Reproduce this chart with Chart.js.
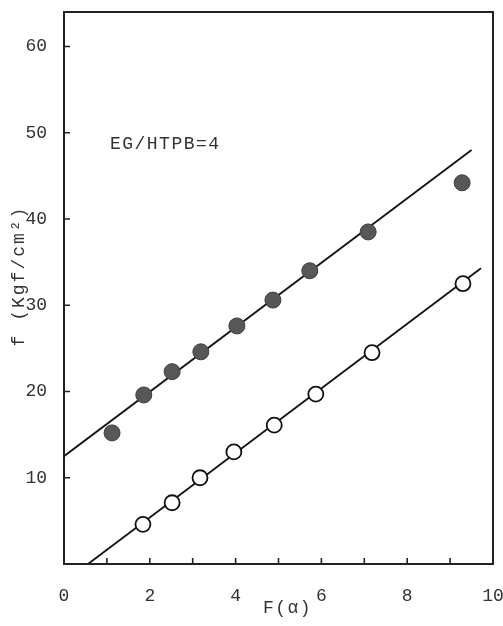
<!DOCTYPE html>
<html lang="en">
<head>
<meta charset="UTF-8">
<title>f vs F(α), EG/HTPB=4</title>
<script src="https://cdn.jsdelivr.net/npm/chart.js"></script>
<style>
  body { margin: 0; background: #fff; }
  #wrap { width: 503px; height: 626px; }
</style>
</head>
<body>
<div id="wrap"><canvas id="chart" width="503" height="626"></canvas></div>
<script>
// filled circles
const filledX = [1.12, 1.86, 2.52, 3.19, 4.03, 4.87, 5.73, 7.09, 9.28];
const filledY = [15.2, 19.6, 22.3, 24.6, 27.6, 30.6, 34.0, 38.5, 44.2];
// open circles
const openX = [1.84, 2.52, 3.17, 3.96, 4.90, 5.87, 7.18, 9.30];
const openY = [4.6, 7.1, 10.0, 13.0, 16.1, 19.7, 24.5, 32.5];
// straight lines drawn through each set (end points)
const filledLineX = [0, 9.5];
const filledLineY = [12.5, 48.0];
const openLineX = [0.56, 9.72];
const openLineY = [0, 34.3];

const xTickLabels = ['0', '2', '4', '6', '8', '10'];
const yTickLabels = ['10', '20', '30', '40', '50', '60'];
const xTitle = 'F(α)';
const yTitle = 'f (Kgf/cm²)';
const note = 'EG/HTPB=4';

const FONT = '"Liberation Mono", "DejaVu Sans Mono", monospace';
const INK = '#333';

function toPoints(xs, ys) {
    return xs.map((x, i) => ({ x: x, y: ys[i] }));
}

// frame, inward tick marks, note and axis titles
const framePlugin = {
    id: 'frame',
    afterDatasetsDraw(chart) {
        const ctx = chart.ctx;
        const a = chart.chartArea;
        const x = chart.scales.x;
        const y = chart.scales.y;
        ctx.save();
        ctx.strokeStyle = '#222';
        ctx.lineWidth = 2;
        ctx.strokeRect(a.left, a.top, a.right - a.left, a.bottom - a.top);
        ctx.lineWidth = 1.6;
        ctx.beginPath();
        for (let v = 1; v < 10; v++) {
            const px = x.getPixelForValue(v);
            ctx.moveTo(px, a.bottom);
            ctx.lineTo(px, a.bottom - 6);
        }
        for (let v = 10; v <= 60; v += 10) {
            const py = y.getPixelForValue(v);
            ctx.moveTo(a.left, py);
            ctx.lineTo(a.left + 6, py);
        }
        ctx.stroke();

        ctx.fillStyle = INK;
        ctx.font = '18px ' + FONT;
        ctx.textBaseline = 'middle';
        ctx.letterSpacing = '1.5px';
        ctx.textAlign = 'left';
        ctx.fillText(note, x.getPixelForValue(1.07), y.getPixelForValue(48.7));

        ctx.textAlign = 'center';
        ctx.fillText(xTitle, (a.left + a.right) / 2 + 9, 608);

        ctx.translate(19, 276);
        ctx.rotate(-Math.PI / 2);
        ctx.letterSpacing = '2px';
        ctx.fillText(yTitle, 0, 0);
        ctx.restore();
    }
};

const ctx = document.getElementById('chart').getContext('2d');
new Chart(ctx, {
    type: 'scatter',
    data: {
        datasets: [
            {
                label: 'filled',
                data: toPoints(filledX, filledY),
                backgroundColor: '#575757',
                borderColor: '#3e3e3e',
                borderWidth: 1,
                pointRadius: 8,
                order: 1
            },
            {
                label: 'open',
                data: toPoints(openX, openY),
                backgroundColor: '#ffffff',
                borderColor: '#111',
                borderWidth: 1.8,
                pointRadius: 7.5,
                order: 1
            },
            {
                label: 'filled line',
                type: 'line',
                data: toPoints(filledLineX, filledLineY),
                borderColor: '#111',
                borderWidth: 1.8,
                pointRadius: 0,
                fill: false,
                order: 2
            },
            {
                label: 'open line',
                type: 'line',
                data: toPoints(openLineX, openLineY),
                borderColor: '#111',
                borderWidth: 1.8,
                pointRadius: 0,
                fill: false,
                order: 2
            }
        ]
    },
    options: {
        responsive: false,
        animation: false,
        layout: { padding: { top: 12, right: 10, left: 0, bottom: 0 } },
        plugins: {
            legend: { display: false },
            tooltip: { enabled: false }
        },
        scales: {
            x: {
                type: 'linear',
                min: 0,
                max: 10,
                grid: { display: false },
                border: { display: false },
                ticks: {
                    stepSize: 1,
                    autoSkip: false,
                    maxRotation: 0,
                    padding: 13,
                    color: INK,
                    font: { family: FONT, size: 18 },
                    callback: (v) => xTickLabels.includes(String(v)) ? String(v) : ''
                },
                afterFit: (s) => {
                    s.height = 62;
                    s.paddingLeft = 0;
                    s.paddingRight = 0;
                }
            },
            y: {
                min: 0,
                max: 64,
                grid: { display: false },
                border: { display: false },
                ticks: {
                    stepSize: 10,
                    padding: 9,
                    color: INK,
                    font: { family: FONT, size: 18 },
                    callback: (v) => yTickLabels.includes(String(v)) ? String(v) : ''
                },
                afterFit: (s) => {
                    s.width = 64;
                    s.paddingTop = 0;
                    s.paddingBottom = 0;
                }
            }
        }
    },
    plugins: [framePlugin]
});
</script>
</body>
</html>
